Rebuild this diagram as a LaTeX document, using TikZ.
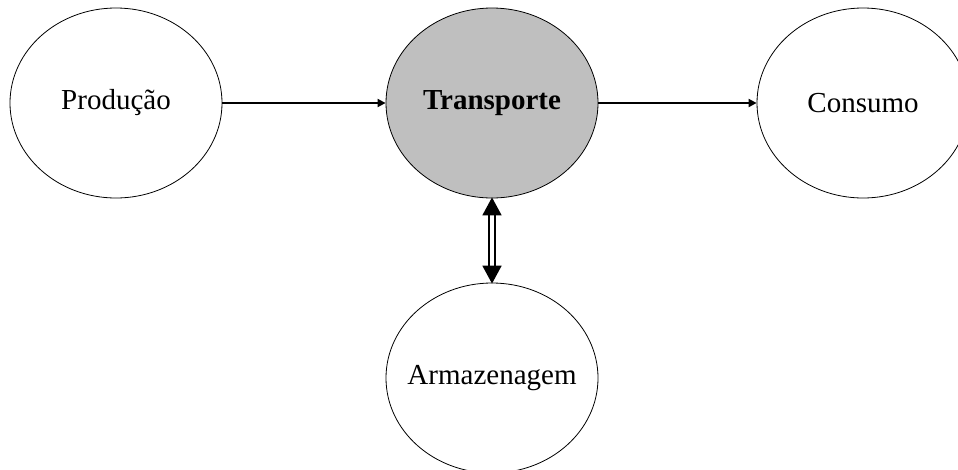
\documentclass[tikz,border=0pt]{standalone}
\usepackage{fontspec}
\setmainfont{Liberation Serif}
\usetikzlibrary{arrows.meta,shapes.geometric}
\begin{document}
\begin{tikzpicture}[x=1pt,y=-1pt,
  blob/.style={ellipse,draw=black,line width=0.8pt,minimum width=212pt,minimum height=190pt,inner ysep=0pt,inner xsep=-30pt,font=\fontsize{29}{34}\selectfont},
  flow/.style={line width=1.8pt,-{Triangle[length=8pt,width=8pt]}},
  both/.style={double=white,double distance=3.5pt,line width=1.8pt,{Triangle[length=18pt,width=19pt]}-{Triangle[length=18pt,width=19pt]}}]
\useasboundingbox (0,0) rectangle (958,469);
\clip (0,0) rectangle (958,469);
\node[blob] (prod) at (116,103) {Produção};
\node[blob,fill=black!25,font=\fontsize{29}{34}\selectfont\bfseries] (trans) at (492,103) {Transporte};
\node[blob] (cons) at (863,103) {Consumo};
\node[blob] (arm) at (492,378) {Armazenagem};
\draw[flow] (prod.east) -- (trans.west);
\draw[flow] (trans.east) -- (cons.west);
\draw[both] ([yshift=1pt]trans.south) -- ([yshift=-1pt]arm.north);
\end{tikzpicture}
\end{document}
